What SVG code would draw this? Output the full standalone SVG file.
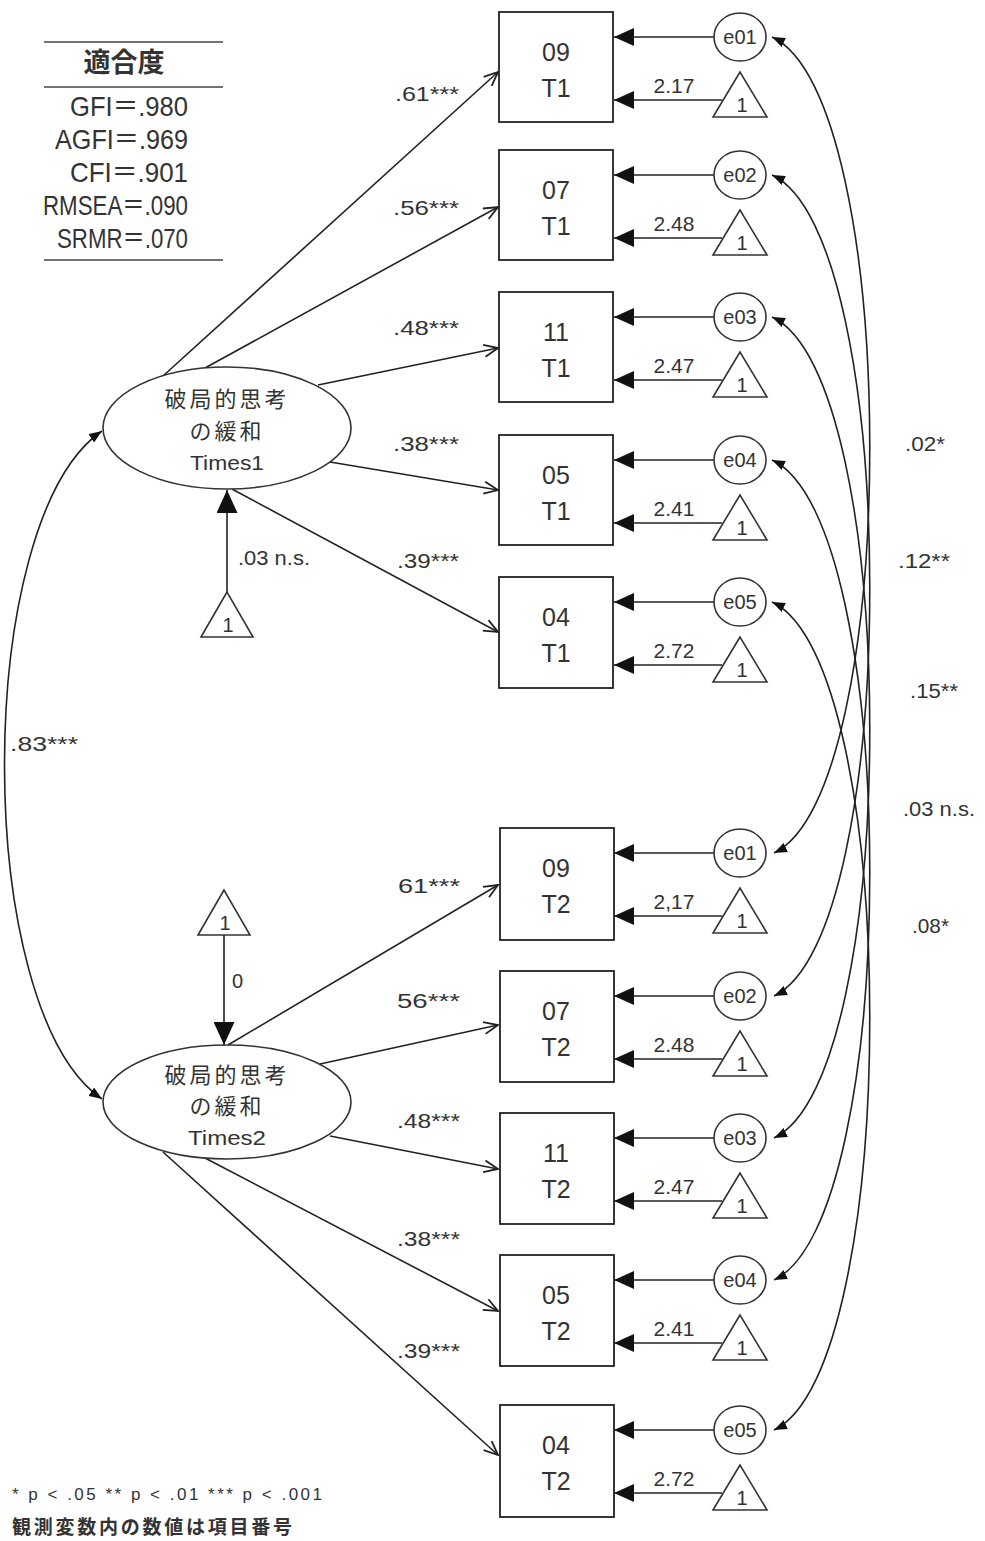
<svg xmlns="http://www.w3.org/2000/svg" width="985" height="1541" viewBox="0 0 985 1541">
<style>
.ln{stroke:#222;stroke-width:1.6;fill:none}
.bx{fill:#fff;stroke:#222;stroke-width:1.8}
.el{fill:#fff;stroke:#333;stroke-width:1.6}
.t{font-family:"Liberation Sans","Noto Sans CJK JP",sans-serif;fill:#333}
.bt{font-size:25px;text-anchor:middle}
.et{font-size:20px;text-anchor:middle}
.lb{font-size:20px}
.jp{font-family:"Noto Sans CJK JP",sans-serif;fill:#333}
</style>
<defs>
<marker id="fa" viewBox="0 0 20 18" refX="20" refY="9" markerWidth="20" markerHeight="18" markerUnits="userSpaceOnUse" orient="auto"><path d="M0,0 L20,9 L0,18 z" fill="#111"/></marker>
<marker id="fb" viewBox="0 0 23 21" refX="23" refY="10.5" markerWidth="23" markerHeight="21" markerUnits="userSpaceOnUse" orient="auto"><path d="M0,0 L23,10.5 L0,21 z" fill="#111"/></marker>
<marker id="oa" viewBox="0 0 16 14" refX="15" refY="7" markerWidth="16" markerHeight="14" markerUnits="userSpaceOnUse" orient="auto"><path d="M1,1 L15,7 L1,13" fill="none" stroke="#222" stroke-width="1.8"/></marker>
<marker id="sa" viewBox="0 0 13 10" refX="13" refY="5" markerWidth="13" markerHeight="10" markerUnits="userSpaceOnUse" orient="auto-start-reverse"><path d="M0,0 L13,5 L0,10 z" fill="#111"/></marker>
</defs>
<rect width="985" height="1541" fill="#fff"/>

<g id="fit-table">
<line x1="44" y1="42" x2="223" y2="42" stroke="#444" stroke-width="1.6"/>
<line x1="44" y1="87" x2="223" y2="87" stroke="#444" stroke-width="1.6"/>
<line x1="44" y1="260" x2="223" y2="260" stroke="#444" stroke-width="1.6"/>
<text x="124" y="72" text-anchor="middle" class="jp" font-size="27" font-weight="bold">適合度</text>
<text x="188" y="116" text-anchor="end" class="t" font-size="28" textLength="118" lengthAdjust="spacingAndGlyphs">GFI＝.980</text>
<text x="188" y="149" text-anchor="end" class="t" font-size="28" textLength="133" lengthAdjust="spacingAndGlyphs">AGFI＝.969</text>
<text x="188" y="182" text-anchor="end" class="t" font-size="28" textLength="118" lengthAdjust="spacingAndGlyphs">CFI＝.901</text>
<text x="188" y="215" text-anchor="end" class="t" font-size="28" textLength="145" lengthAdjust="spacingAndGlyphs">RMSEA＝.090</text>
<text x="188" y="248" text-anchor="end" class="t" font-size="28" textLength="131" lengthAdjust="spacingAndGlyphs">SRMR＝.070</text>
</g>

<g id="connectors">
<line class="ln" x1="163" y1="376" x2="498" y2="72" marker-end="url(#oa)"/>
<line class="ln" x1="205" y1="368" x2="498" y2="207" marker-end="url(#oa)"/>
<line class="ln" x1="318" y1="385" x2="498" y2="348" marker-end="url(#oa)"/>
<line class="ln" x1="330" y1="462" x2="498" y2="490" marker-end="url(#oa)"/>
<line class="ln" x1="232" y1="489" x2="498" y2="632" marker-end="url(#oa)"/>
<line class="ln" x1="228" y1="1045" x2="498" y2="885" marker-end="url(#oa)"/>
<line class="ln" x1="320" y1="1064" x2="498" y2="1025" marker-end="url(#oa)"/>
<line class="ln" x1="330" y1="1136" x2="498" y2="1169" marker-end="url(#oa)"/>
<line class="ln" x1="205" y1="1158" x2="498" y2="1311" marker-end="url(#oa)"/>
<line class="ln" x1="163" y1="1152" x2="498" y2="1455" marker-end="url(#oa)"/>
<line class="ln" x1="227" y1="592" x2="227" y2="490" marker-end="url(#fb)"/>
<line class="ln" x1="224" y1="935" x2="224" y2="1045" marker-end="url(#fb)"/>
<path class="ln" d="M102,431 C-28,520 -28,1010 102,1099" marker-start="url(#sa)" marker-end="url(#sa)"/>
<line class="ln" x1="714" y1="37" x2="614" y2="37" marker-end="url(#fa)"/>
<line class="ln" x1="722" y1="100" x2="614" y2="100" marker-end="url(#fa)"/>
<line class="ln" x1="714" y1="175" x2="614" y2="175" marker-end="url(#fa)"/>
<line class="ln" x1="722" y1="238" x2="614" y2="238" marker-end="url(#fa)"/>
<line class="ln" x1="714" y1="317" x2="614" y2="317" marker-end="url(#fa)"/>
<line class="ln" x1="722" y1="380" x2="614" y2="380" marker-end="url(#fa)"/>
<line class="ln" x1="714" y1="460" x2="614" y2="460" marker-end="url(#fa)"/>
<line class="ln" x1="722" y1="523" x2="614" y2="523" marker-end="url(#fa)"/>
<line class="ln" x1="714" y1="602" x2="614" y2="602" marker-end="url(#fa)"/>
<line class="ln" x1="722" y1="665" x2="614" y2="665" marker-end="url(#fa)"/>
<line class="ln" x1="714" y1="853" x2="614" y2="853" marker-end="url(#fa)"/>
<line class="ln" x1="722" y1="916" x2="614" y2="916" marker-end="url(#fa)"/>
<line class="ln" x1="714" y1="996" x2="614" y2="996" marker-end="url(#fa)"/>
<line class="ln" x1="722" y1="1059" x2="614" y2="1059" marker-end="url(#fa)"/>
<line class="ln" x1="714" y1="1138" x2="614" y2="1138" marker-end="url(#fa)"/>
<line class="ln" x1="722" y1="1201" x2="614" y2="1201" marker-end="url(#fa)"/>
<line class="ln" x1="714" y1="1280" x2="614" y2="1280" marker-end="url(#fa)"/>
<line class="ln" x1="722" y1="1343" x2="614" y2="1343" marker-end="url(#fa)"/>
<line class="ln" x1="714" y1="1430" x2="614" y2="1430" marker-end="url(#fa)"/>
<line class="ln" x1="722" y1="1493" x2="614" y2="1493" marker-end="url(#fa)"/>
<path class="ln" d="M772,37 C902,97 902,793 774,853" marker-start="url(#sa)" marker-end="url(#sa)"/>
<path class="ln" d="M772,175 C902,235 902,936 774,996" marker-start="url(#sa)" marker-end="url(#sa)"/>
<path class="ln" d="M772,317 C902,377 902,1078 774,1138" marker-start="url(#sa)" marker-end="url(#sa)"/>
<path class="ln" d="M772,460 C902,520 902,1220 774,1280" marker-start="url(#sa)" marker-end="url(#sa)"/>
<path class="ln" d="M772,602 C902,662 902,1370 774,1430" marker-start="url(#sa)" marker-end="url(#sa)"/>
</g>

<g id="connector-labels" class="t lb">
<text x="395" y="101" textLength="64" lengthAdjust="spacingAndGlyphs">.61***</text>
<text x="393" y="215" textLength="66" lengthAdjust="spacingAndGlyphs">.56***</text>
<text x="393" y="335" textLength="66" lengthAdjust="spacingAndGlyphs">.48***</text>
<text x="393" y="451" textLength="66" lengthAdjust="spacingAndGlyphs">.38***</text>
<text x="397" y="568" textLength="62" lengthAdjust="spacingAndGlyphs">.39***</text>
<text x="238" y="565" textLength="72" lengthAdjust="spacingAndGlyphs">.03 n.s.</text>
<text x="10" y="751" textLength="68" lengthAdjust="spacingAndGlyphs">.83***</text>
<text x="398" y="893" textLength="62" lengthAdjust="spacingAndGlyphs">61***</text>
<text x="397" y="1008" textLength="63" lengthAdjust="spacingAndGlyphs">56***</text>
<text x="397" y="1128" textLength="63" lengthAdjust="spacingAndGlyphs">.48***</text>
<text x="397" y="1246" textLength="63" lengthAdjust="spacingAndGlyphs">.38***</text>
<text x="397" y="1358" textLength="63" lengthAdjust="spacingAndGlyphs">.39***</text>
<text x="232" y="988">0</text>
<text x="905" y="451" textLength="40" lengthAdjust="spacingAndGlyphs">.02*</text>
<text x="898" y="568" textLength="52" lengthAdjust="spacingAndGlyphs">.12**</text>
<text x="910" y="698" textLength="48" lengthAdjust="spacingAndGlyphs">.15**</text>
<text x="903" y="816" textLength="72" lengthAdjust="spacingAndGlyphs">.03 n.s.</text>
<text x="912" y="933" textLength="37" lengthAdjust="spacingAndGlyphs">.08*</text>
<g font-size="21" text-anchor="middle">
<text x="674" y="93">2.17</text>
<text x="674" y="231">2.48</text>
<text x="674" y="373">2.47</text>
<text x="674" y="516">2.41</text>
<text x="674" y="658">2.72</text>
<text x="674" y="909">2,17</text>
<text x="674" y="1052">2.48</text>
<text x="674" y="1194">2.47</text>
<text x="674" y="1336">2.41</text>
<text x="674" y="1486">2.72</text>
</g>
</g>

<g id="latent-T1">
<ellipse class="el" cx="227" cy="428" rx="124" ry="61"/>
<text x="227" y="407" text-anchor="middle" class="jp" font-size="22" letter-spacing="3">破局的思考</text>
<text x="227" y="439" text-anchor="middle" class="jp" font-size="22" letter-spacing="3">の緩和</text>
<text x="227" y="470" text-anchor="middle" class="t" font-size="20" textLength="74" lengthAdjust="spacingAndGlyphs">Times1</text>
</g>
<g id="latent-T2">
<ellipse class="el" cx="227" cy="1102" rx="124" ry="57"/>
<text x="227" y="1083" text-anchor="middle" class="jp" font-size="22" letter-spacing="3">破局的思考</text>
<text x="227" y="1114" text-anchor="middle" class="jp" font-size="22" letter-spacing="3">の緩和</text>
<text x="227" y="1145" text-anchor="middle" class="t" font-size="20" textLength="78" lengthAdjust="spacingAndGlyphs">Times2</text>
</g>
<g id="intercept-T1"><path class="el" d="M227,592 L201,637 L253,637 z"/><text x="228" y="632" class="t et">1</text></g>
<g id="intercept-T2"><path class="el" d="M224,890 L198,935 L250,935 z"/><text x="225" y="930" class="t et">1</text></g>

<g id="obs-09-T1"><rect class="bx" x="499" y="12" width="114" height="110"/><text x="556" y="61" class="t bt">09</text><text x="556" y="97" class="t bt">T1</text></g>
<g id="obs-07-T1"><rect class="bx" x="499" y="150" width="114" height="110"/><text x="556" y="199" class="t bt">07</text><text x="556" y="235" class="t bt">T1</text></g>
<g id="obs-11-T1"><rect class="bx" x="499" y="292" width="114" height="110"/><text x="556" y="341" class="t bt">11</text><text x="556" y="377" class="t bt">T1</text></g>
<g id="obs-05-T1"><rect class="bx" x="499" y="435" width="114" height="110"/><text x="556" y="484" class="t bt">05</text><text x="556" y="520" class="t bt">T1</text></g>
<g id="obs-04-T1"><rect class="bx" x="499" y="577" width="114" height="111"/><text x="556" y="626" class="t bt">04</text><text x="556" y="662" class="t bt">T1</text></g>
<g id="obs-09-T2"><rect class="bx" x="500" y="828" width="114" height="112"/><text x="556" y="877" class="t bt">09</text><text x="556" y="913" class="t bt">T2</text></g>
<g id="obs-07-T2"><rect class="bx" x="500" y="971" width="114" height="111"/><text x="556" y="1020" class="t bt">07</text><text x="556" y="1056" class="t bt">T2</text></g>
<g id="obs-11-T2"><rect class="bx" x="500" y="1113" width="114" height="111"/><text x="556" y="1162" class="t bt">11</text><text x="556" y="1198" class="t bt">T2</text></g>
<g id="obs-05-T2"><rect class="bx" x="500" y="1255" width="114" height="111"/><text x="556" y="1304" class="t bt">05</text><text x="556" y="1340" class="t bt">T2</text></g>
<g id="obs-04-T2"><rect class="bx" x="500" y="1405" width="114" height="112"/><text x="556" y="1454" class="t bt">04</text><text x="556" y="1490" class="t bt">T2</text></g>

<g id="err-e01-T1"><ellipse class="el" cx="740" cy="37" rx="26" ry="24"/><text x="740" y="44" class="t et">e01</text></g>
<g id="err-e02-T1"><ellipse class="el" cx="740" cy="175" rx="26" ry="24"/><text x="740" y="182" class="t et">e02</text></g>
<g id="err-e03-T1"><ellipse class="el" cx="740" cy="317" rx="26" ry="24"/><text x="740" y="324" class="t et">e03</text></g>
<g id="err-e04-T1"><ellipse class="el" cx="740" cy="460" rx="26" ry="24"/><text x="740" y="467" class="t et">e04</text></g>
<g id="err-e05-T1"><ellipse class="el" cx="740" cy="602" rx="26" ry="24"/><text x="740" y="609" class="t et">e05</text></g>
<g id="err-e01-T2"><ellipse class="el" cx="740" cy="853" rx="26" ry="24"/><text x="740" y="860" class="t et">e01</text></g>
<g id="err-e02-T2"><ellipse class="el" cx="740" cy="996" rx="26" ry="24"/><text x="740" y="1003" class="t et">e02</text></g>
<g id="err-e03-T2"><ellipse class="el" cx="740" cy="1138" rx="26" ry="24"/><text x="740" y="1145" class="t et">e03</text></g>
<g id="err-e04-T2"><ellipse class="el" cx="740" cy="1280" rx="26" ry="24"/><text x="740" y="1287" class="t et">e04</text></g>
<g id="err-e05-T2"><ellipse class="el" cx="740" cy="1430" rx="26" ry="24"/><text x="740" y="1437" class="t et">e05</text></g>

<g id="int-T1-1"><path class="el" d="M740,72 L713,117 L767,117 z"/><text x="742" y="112" class="t et">1</text></g>
<g id="int-T1-2"><path class="el" d="M740,210 L713,255 L767,255 z"/><text x="742" y="250" class="t et">1</text></g>
<g id="int-T1-3"><path class="el" d="M740,352 L713,397 L767,397 z"/><text x="742" y="392" class="t et">1</text></g>
<g id="int-T1-4"><path class="el" d="M740,495 L713,540 L767,540 z"/><text x="742" y="535" class="t et">1</text></g>
<g id="int-T1-5"><path class="el" d="M740,637 L713,682 L767,682 z"/><text x="742" y="677" class="t et">1</text></g>
<g id="int-T2-1"><path class="el" d="M740,888 L713,933 L767,933 z"/><text x="742" y="928" class="t et">1</text></g>
<g id="int-T2-2"><path class="el" d="M740,1031 L713,1076 L767,1076 z"/><text x="742" y="1071" class="t et">1</text></g>
<g id="int-T2-3"><path class="el" d="M740,1173 L713,1218 L767,1218 z"/><text x="742" y="1213" class="t et">1</text></g>
<g id="int-T2-4"><path class="el" d="M740,1315 L713,1360 L767,1360 z"/><text x="742" y="1355" class="t et">1</text></g>
<g id="int-T2-5"><path class="el" d="M740,1465 L713,1510 L767,1510 z"/><text x="742" y="1505" class="t et">1</text></g>

<g id="notes">
<text x="12" y="1500" class="t" font-size="17" textLength="310" lengthAdjust="spacing">* p &lt; .05  ** p &lt; .01  *** p &lt; .001</text>
<text x="12" y="1534" class="jp" font-size="19" font-weight="bold" textLength="280" lengthAdjust="spacing">観測変数内の数値は項目番号</text>
</g>
</svg>
